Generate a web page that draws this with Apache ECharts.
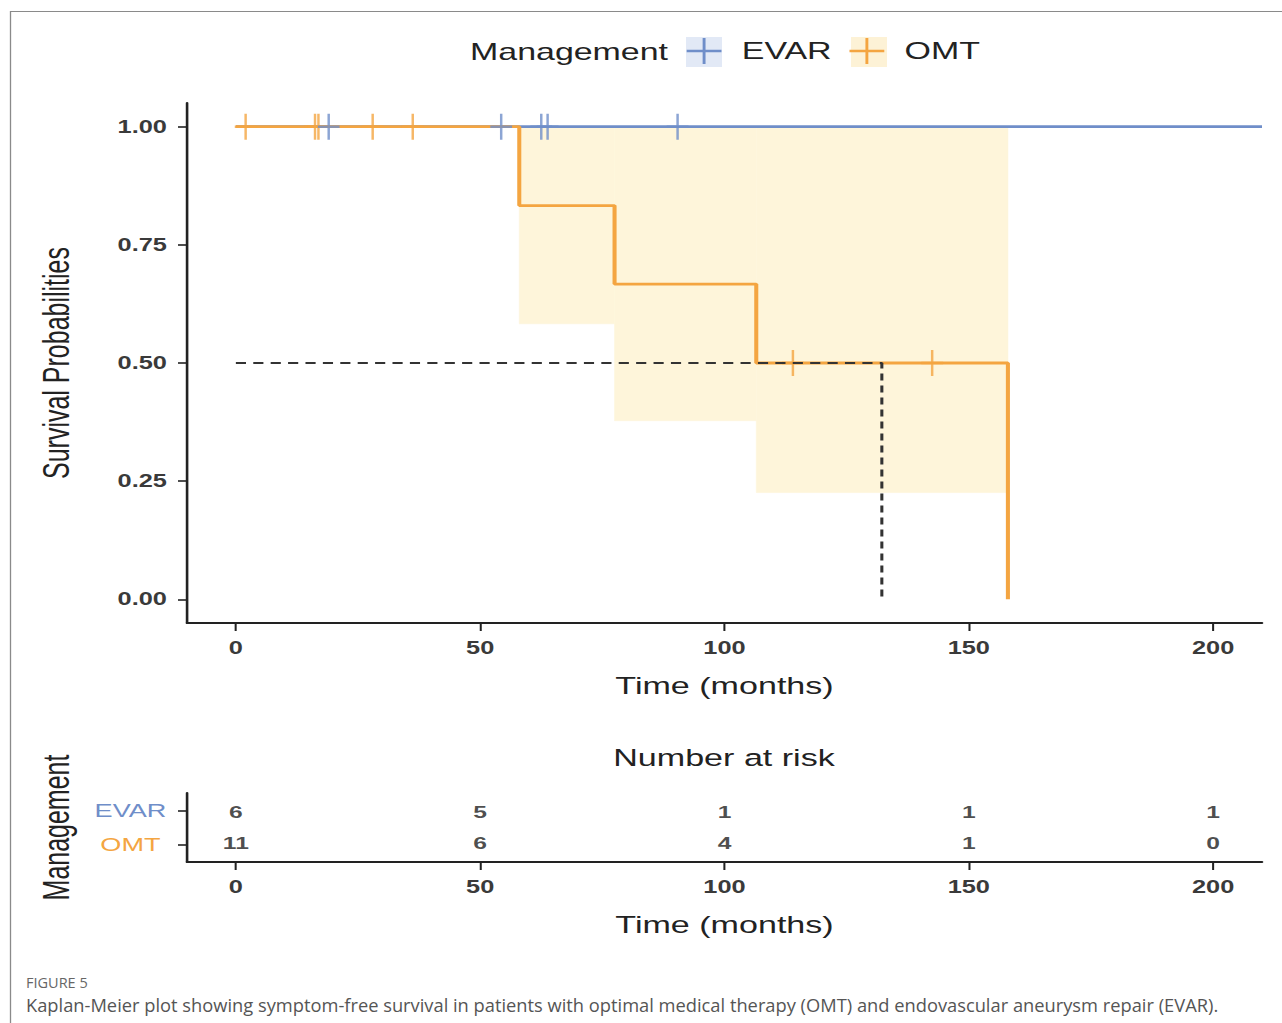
<!DOCTYPE html>
<html><head><meta charset="utf-8">
<script src="https://cdn.jsdelivr.net/npm/echarts@6/dist/echarts.min.js"></script>
<style>
html,body{margin:0;padding:0;background:#fff;overflow:hidden;width:1282px;height:1023px;}
#chart{position:absolute;left:0;top:0;width:884px;height:1023px;transform-origin:0 0;}
</style></head><body><div id="chart"></div>
<script>
// ---------------- data ----------------
const timeTicks = [0, 50, 100, 150, 200];
const survTicks = [0, 0.25, 0.5, 0.75, 1];
const groups = ['EVAR', 'OMT'];

const evarTime = [0, 210];
const evarSurv = [1, 1];
const evarCensorTime = [19, 54.3, 62.5, 63.8, 90.4];
const evarCensorSurv = [1, 1, 1, 1, 1];

const omtTime = [0, 58, 77.5, 106.5, 158];
const omtSurv = [1, 0.833, 0.667, 0.5, 0];
const omtCensorTime = [2, 16.2, 16.9, 28, 36.2, 114, 142.5];
const omtCensorSurv = [1, 1, 1, 1, 1, 0.5, 0.5];

const omtCiStart = [58, 77.5, 106.5];
const omtCiEnd = [77.5, 106.5, 158];
const omtCiLower = [0.583, 0.378, 0.226];
const omtCiUpper = [1, 1, 1];

const medianTime = 132.2;
const medianSurv = 0.5;

const riskTimes = [0, 50, 100, 150, 200];
const riskEVAR = [6, 5, 1, 1, 1];
const riskOMT = [11, 6, 4, 1, 0];

// ---------------- layout ----------------
const REF_W = 1282, INNER_W = 884, SX = REF_W / INNER_W;
const el = document.getElementById('chart');
el.style.transform = 'scaleX(' + SX + ')';
const FONT = 'Liberation Sans, Arial, sans-serif';
const BLUE = '#6f8ec9', ORANGE = '#f4a541', CI_FILL = '#fef5da';
const AXIS_C = '#222';
const rx = v => v / SX; // reference x -> inner x

const censorPath = 'path://M0,11.75h15v2.5h-15z M6.65,0h1.7v26h-1.7z';
const legendPath = 'path://M0,11.7h24v2.6h-24z M11,0h2v26h-2z';

const chart = echarts.init(el, null, { renderer: 'svg' });

function xAxisDef(grid) {
  return {
    gridIndex: grid, type: 'value', min: -10, max: 210,
    axisLine: { show: true, onZero: false, lineStyle: { color: AXIS_C, width: 1.8 } },
    axisTick: { show: true, length: 8, customValues: timeTicks, lineStyle: { color: AXIS_C, width: 1.4 } },
    axisLabel: { customValues: timeTicks, fontSize: 17.5, fontWeight: 'bold', color: '#3a3a3a', margin: 16, fontFamily: FONT },
    splitLine: { show: false },
    name: 'Time (months)', nameLocation: 'middle', nameGap: 51,
    nameTextStyle: { fontSize: 23.5, color: AXIS_C, fontFamily: FONT }
  };
}

const option = {
  animation: false,
  backgroundColor: '#fff',
  textStyle: { fontFamily: FONT },
  grid: [
    { left: rx(187), right: INNER_W - rx(1262), top: 103, height: 520 },
    { left: rx(187), right: INNER_W - rx(1262), top: 793, height: 69 }
  ],
  legend: {
    data: groups,
    left: 473.5, top: 38, padding: 0,
    icon: legendPath, itemWidth: 24, itemHeight: 26, itemGap: 12.3,
    textStyle: { fontSize: 23.4, color: AXIS_C, fontFamily: FONT, padding: [0, 0, 0, 9] },
    selectedMode: false
  },
  xAxis: [xAxisDef(0), xAxisDef(1)],
  yAxis: [
    {
      gridIndex: 0, type: 'value', min: -0.05, max: 1.05,
      axisLine: { show: true, onZero: false, lineStyle: { color: AXIS_C, width: 1.8 } },
      axisTick: { show: true, length: 6.2, customValues: survTicks, lineStyle: { color: AXIS_C, width: 1.6 } },
      axisLabel: { customValues: survTicks, formatter: v => v.toFixed(2), fontSize: 17.5, fontWeight: 'bold', color: '#3a3a3a', margin: 13.8, fontFamily: FONT },
      splitLine: { show: false },
      name: 'Survival Probabilities', nameLocation: 'middle', nameGap: 77,
      nameTextStyle: { fontSize: 25, color: AXIS_C, fontFamily: FONT }
    },
    {
      gridIndex: 1, type: 'category', data: groups, inverse: true,
      axisLine: { show: true, onZero: false, lineStyle: { color: AXIS_C, width: 1.8 } },
      axisTick: { show: true, length: 6.2, alignWithLabel: true, lineStyle: { color: AXIS_C, width: 1.6 } },
      axisLabel: { align: 'center', margin: 39, fontSize: 18.7, fontFamily: FONT,
        color: v => (v === 'EVAR' ? BLUE : ORANGE) },
      splitLine: { show: false },
      name: 'Management', nameLocation: 'middle', nameGap: 77,
      nameTextStyle: { fontSize: 25, color: AXIS_C, fontFamily: FONT }
    }
  ],
  graphic: [
    { type: 'line', shape: { x1: rx(10), y1: 11.5, x2: INNER_W, y2: 11.5 }, style: { stroke: '#8a8a8a', lineWidth: 1.2 }, silent: true },
    { type: 'line', shape: { x1: rx(10.5), y1: 11, x2: rx(10.5), y2: 1023 }, style: { stroke: '#8a8a8a', lineWidth: 0.9 }, silent: true },
    { type: 'rect', z: -1, shape: { x: rx(686), y: 37, width: rx(36), height: 30 }, style: { fill: '#e2e9f6' }, silent: true },
    { type: 'rect', z: -1, shape: { x: rx(851), y: 37, width: rx(36), height: 30 }, style: { fill: '#fdf2d6' }, silent: true },
    { type: 'text', x: rx(668), y: 52, style: { text: 'Management', font: '23.4px ' + FONT, fill: AXIS_C, textAlign: 'right', align: 'right', textVerticalAlign: 'middle', verticalAlign: 'middle' }, silent: true },
    { type: 'text', x: rx(724), y: 758, style: { text: 'Number at risk', font: '23.5px ' + FONT, fill: AXIS_C, textAlign: 'center', align: 'center', textVerticalAlign: 'middle', verticalAlign: 'middle' }, silent: true },
    { type: 'text', x: rx(26), y: 983, scaleX: 1 / SX, style: { text: 'FIGURE 5', font: '14.5px Open Sans', fill: '#666', textAlign: 'left', align: 'left', textVerticalAlign: 'middle', verticalAlign: 'middle' }, silent: true },
    { type: 'text', x: rx(26), y: 1005, scaleX: 1 / SX, style: { text: 'Kaplan-Meier plot showing symptom-free survival in patients with optimal medical therapy (OMT) and endovascular aneurysm repair (EVAR).', font: '18.3px Open Sans', fill: '#555', textAlign: 'left', align: 'left', textVerticalAlign: 'middle', verticalAlign: 'middle' }, silent: true }
  ],
  series: [
    {
      name: 'OMT CI', type: 'custom', xAxisIndex: 0, yAxisIndex: 0, silent: true, z: 1,
      data: omtCiStart.map((t, i) => [t, omtCiEnd[i], omtCiLower[i], omtCiUpper[i]]),
      encode: { x: [0, 1], y: [2, 3] },
      renderItem: (params, api) => {
        const p0 = api.coord([api.value(0), api.value(3)]);
        const p1 = api.coord([api.value(1), api.value(2)]);
        return { type: 'rect', shape: { x: p0[0], y: p0[1], width: p1[0] - p0[0], height: p1[1] - p0[1] },
          style: { fill: CI_FILL, stroke: CI_FILL, lineWidth: 0.5 } };
      }
    },
    {
      name: 'EVAR', type: 'line', step: 'end', xAxisIndex: 0, yAxisIndex: 0, z: 2,
      data: evarTime.map((t, i) => [t, evarSurv[i]]),
      showSymbol: false, symbol: 'none',
      lineStyle: { color: BLUE, width: 2.8 }, itemStyle: { color: BLUE }
    },
    {
      name: 'OMT', type: 'line', step: 'end', xAxisIndex: 0, yAxisIndex: 0, z: 3,
      data: omtTime.map((t, i) => [t, omtSurv[i]]),
      showSymbol: false, symbol: 'none',
      lineStyle: { color: ORANGE, width: 2.8 }, itemStyle: { color: ORANGE }
    },
    {
      name: 'OMT censored', type: 'scatter', xAxisIndex: 0, yAxisIndex: 0, z: 4,
      data: omtCensorTime.map((t, i) => [t, omtCensorSurv[i]]),
      symbol: censorPath, symbolSize: [15, 26], itemStyle: { color: ORANGE }
    },
    {
      name: 'EVAR censored', type: 'scatter', xAxisIndex: 0, yAxisIndex: 0, z: 4,
      data: evarCensorTime.map((t, i) => [t, evarCensorSurv[i]]),
      symbol: censorPath, symbolSize: [15, 26], itemStyle: { color: BLUE }
    },
    {
      name: 'Median', type: 'line', xAxisIndex: 0, yAxisIndex: 0, z: 5,
      data: [[0, medianSurv], [medianTime, medianSurv], [medianTime, 0]],
      showSymbol: false, symbol: 'none',
      lineStyle: { color: '#333', width: 2.1, type: [7, 5] }
    },
    {
      name: 'Risk EVAR', type: 'scatter', xAxisIndex: 1, yAxisIndex: 1,
      data: riskTimes.map((t, i) => [t, 'EVAR', riskEVAR[i]]),
      symbolSize: 1, itemStyle: { color: 'rgba(0,0,0,0)' },
      label: { show: true, position: 'inside', offset: [0, 1.5], formatter: p => String(p.value[2]), fontSize: 17, fontWeight: 'bold', color: '#1e1e1e', fontFamily: FONT }
    },
    {
      name: 'Risk OMT', type: 'scatter', xAxisIndex: 1, yAxisIndex: 1,
      data: riskTimes.map((t, i) => [t, 'OMT', riskOMT[i]]),
      symbolSize: 1, itemStyle: { color: 'rgba(0,0,0,0)' },
      label: { show: true, position: 'inside', offset: [0, -1.5], formatter: p => String(p.value[2]), fontSize: 17, fontWeight: 'bold', color: '#1e1e1e', fontFamily: FONT }
    }
  ]
};
chart.setOption(option);
</script></body></html>
